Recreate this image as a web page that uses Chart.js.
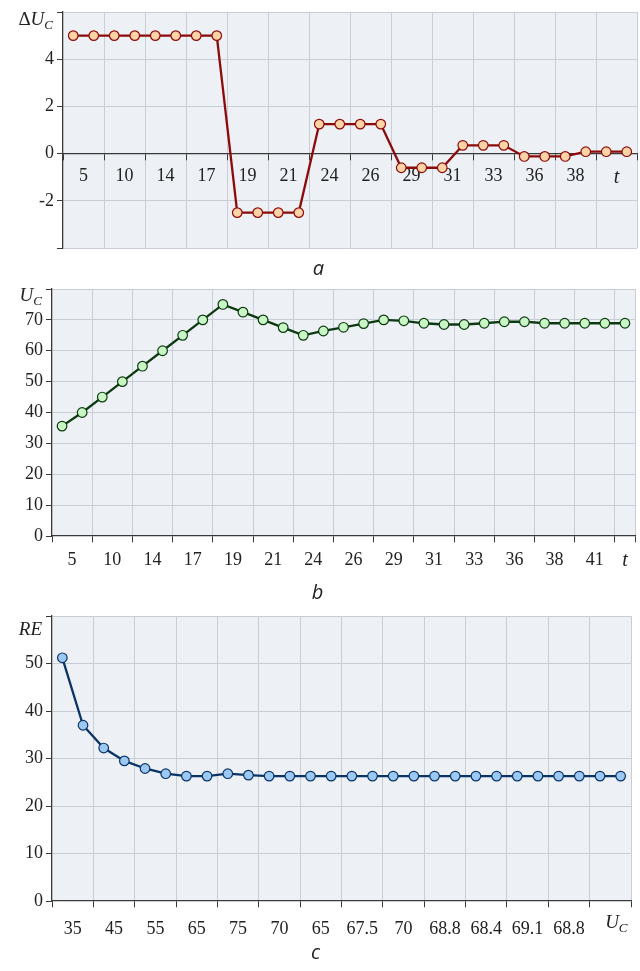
<!DOCTYPE html>
<html>
<head>
<meta charset="utf-8">
<script src="https://cdn.jsdelivr.net/npm/chart.js@4.4.1/dist/chart.umd.min.js"></script>
<style>
  body { margin: 0; background: #fff; }
  .box { position: absolute; left: 0; width: 640px; }
</style>
</head>
<body>
<div class="box" style="top:0;height:285px"><canvas id="chartA"></canvas></div>
<div class="box" style="top:285px;height:325px"><canvas id="chartB"></canvas></div>
<div class="box" style="top:610px;height:361px"><canvas id="chartC"></canvas></div>
<script>
// dati (a = variazione, b = U_C, c = RE)
const deltaU = [5, 5, 5, 5, 5, 5, 5, 5, -2.5, -2.5, -2.5, -2.5, 1.25, 1.25, 1.25, 1.25,
  -0.6, -0.6, -0.6, 0.35, 0.35, 0.35, -0.12, -0.12, -0.12, 0.08, 0.08, 0.08];
const tLabelsA = ['5', '10', '14', '17', '19', '21', '24', '26', '29', '31', '33', '36', '38', 't'];

const uC = [35.6, 40, 45, 50, 55, 60, 65, 70, 75, 72.5, 70, 67.5, 65, 66.4, 67.6, 68.8, 70,
  69.7, 68.9, 68.5, 68.5, 68.9, 69.4, 69.4, 68.9, 68.9, 68.9, 68.9, 68.9];
const tLabelsB = ['5', '10', '14', '17', '19', '21', '24', '26', '29', '31', '33', '36', '38', '41', 't'];

const re = [51.2, 37, 32.2, 29.5, 27.9, 26.8, 26.3, 26.3, 26.8, 26.5, 26.3, 26.3, 26.3, 26.3,
  26.3, 26.3, 26.3, 26.3, 26.3, 26.3, 26.3, 26.3, 26.3, 26.3, 26.3, 26.3, 26.3, 26.3];
const uLabelsC = ['35', '45', '55', '65', '75', '70', '65', '67.5', '70', '68.8', '68.4', '69.1', '68.8'];

const GRID = '#c9cdd5';
const AXIS = '#3a3a3a';
const SERIF = '"Liberation Serif", "DejaVu Serif", serif';

// scrive testo con pezzi (es. Δ + U corsivo + pedice C)
function drawParts(ctx, parts, x, y, align) {
  ctx.save();
  ctx.fillStyle = '#222';
  ctx.textBaseline = 'alphabetic';
  ctx.textAlign = 'left';
  let w = 0;
  parts.forEach(p => { ctx.font = p.f; p.w = ctx.measureText(p.t).width; w += p.w; });
  let cx = align === 'right' ? x - w : x - w / 2;
  parts.forEach(p => { ctx.font = p.f; ctx.fillText(p.t, cx, y + (p.dy || 0)); cx += p.w; });
  ctx.restore();
}

// plugin x sfondo dell'area e nomi degli assi
const sfondo = {
  id: 'sfondo',
  beforeDraw(chart) {
    const { ctx, chartArea: a } = chart;
    ctx.save();
    ctx.fillStyle = '#edf0f5';
    ctx.fillRect(a.left, a.top, a.width, a.height);
    ctx.restore();
  }
};
const nomiAssi = {
  id: 'nomiAssi',
  afterDraw(chart, args, opts) {
    const { ctx, chartArea: a, scales } = chart;
    (opts.items || []).forEach(it => {
      if (it.axis === 'y') {
        drawParts(ctx, it.parts, a.left - 10, a.top + it.dy, 'right');
      } else {
        const x = scales.x.getPixelForValue(it.at);
        const y = scales.y.getPixelForValue(0);
        drawParts(ctx, it.parts, x + (it.dx || 0), y + it.dy, 'center');
      }
    });
  }
};

function it19(t) { return { t: t, f: 'italic 19px ' + SERIF }; }
function sub(t) { return { t: t, f: 'italic 13px ' + SERIF, dy: 4 }; }

// crea un grafico; o contiene dati e impostazioni
function makeChart(id, o) {
  const n = o.values.length;
  return new Chart(document.getElementById(id), {
    type: 'line',
    data: {
      datasets: [{
        data: o.values.map((v, i) => ({ x: i + 0.5, y: v })),
        borderColor: o.line,
        borderWidth: 2.3,
        pointRadius: 4.8,
        pointBackgroundColor: o.fill,
        pointBorderColor: o.line,
        pointBorderWidth: 1.2,
        tension: 0
      }]
    },
    plugins: [sfondo, nomiAssi],
    options: {
      responsive: true,
      maintainAspectRatio: false,
      animation: false,
      layout: { padding: o.padding, autoPadding: false },
      plugins: {
        legend: { display: false },
        tooltip: { enabled: false },
        title: {
          display: true,
          position: 'bottom',
          text: o.caption,
          color: '#222',
          font: { family: '"Open Sans", sans-serif', style: 'italic', size: 20, weight: 'normal', lineHeight: 1.2 },
          padding: o.titlePad
        },
        nomiAssi: { items: o.names }
      },
      scales: {
        x: {
          type: 'linear',
          min: 0,
          max: n,
          position: { y: 0 }, // asse x sempre sullo zero
          afterBuildTicks: s => {
            const t = [];
            for (let v = 0; v <= n; v += 2) t.push({ value: v, grid: true });
            if (n % 2) t.push({ value: n, grid: true });
            o.labels.forEach((l, k) => t.push({ value: Math.min(2 * k + 1, n - 0.5), lbl: l }));
            t.sort((p, q) => p.value - q.value);
            s.ticks = t;
          },
          afterFit: s => { s.paddingLeft = 0; s.paddingRight = 0; },
          grid: {
            color: c => (c.tick && c.tick.grid && c.tick.value !== 0) ? GRID : 'transparent',
            tickColor: c => (c.tick && c.tick.grid) ? AXIS : 'transparent',
            tickLength: 6,
            lineWidth: 1
          },
          border: { color: AXIS, width: 1.3 },
          ticks: {
            autoSkip: false,
            maxRotation: 0,
            minRotation: 0,
            padding: o.xPad,
            color: '#222',
            font: c => (c.tick && c.tick.lbl === 't')
              ? { family: SERIF, size: 20, style: 'italic' }
              : { family: SERIF, size: 18 },
            callback: (v, i, ticks) => ticks[i].lbl || ''
          }
        },
        y: {
          min: o.yMin,
          max: o.yMax,
          afterFit: s => { s.width = o.left; s.paddingTop = 0; s.paddingBottom = 0; },
          grid: {
            color: c => c.tick.value === 0 ? 'transparent' : GRID,
            tickColor: AXIS,
            tickLength: 6,
            lineWidth: 1
          },
          border: { color: AXIS, width: 1.3 },
          ticks: {
            stepSize: o.step,
            padding: 3,
            color: '#222',
            font: { family: SERIF, size: 18 },
            callback: v => (v === o.yMax || o.hide.includes(v)) ? '' : String(v)
          }
        }
      }
    }
  });
}

makeChart('chartA', {
  values: deltaU, labels: tLabelsA, caption: 'a',
  yMin: -4, yMax: 6, step: 2, hide: [-4], left: 63,
  padding: { top: 12, right: 3, bottom: 0 },
  titlePad: { top: 9, bottom: 4 }, xPad: 6,
  line: '#8b0a0a', fill: '#ffd3a6',
  names: [{ axis: 'y', dy: 13, parts: [{ t: 'Δ', f: '19px ' + SERIF }, it19('U'), sub('C')] }]
});

makeChart('chartB', {
  values: uC, labels: tLabelsB, caption: 'b',
  yMin: 0, yMax: 80, step: 10, hide: [], left: 52,
  padding: { top: 4, right: 5, bottom: 0 },
  titlePad: { top: 45, bottom: 5 }, xPad: 7,
  line: '#0c3a10', fill: '#c8f7c5',
  names: [{ axis: 'y', dy: 12, parts: [it19('U'), sub('C')] }]
});

makeChart('chartC', {
  values: re, labels: uLabelsC, caption: 'c',
  yMin: 0, yMax: 60, step: 10, hide: [], left: 52,
  padding: { top: 6, right: 9, bottom: 0 },
  titlePad: { top: 40, bottom: 6 }, xPad: 11,
  line: '#0b3466', fill: '#9cc9f4',
  names: [
    { axis: 'y', dy: 19, parts: [it19('R'), it19('E')] },
    { axis: 'x', at: 2 * uLabelsC.length + 1, dx: 6, dy: 27, parts: [it19('U'), sub('C')] }
  ]
});
</script>
</body>
</html>
